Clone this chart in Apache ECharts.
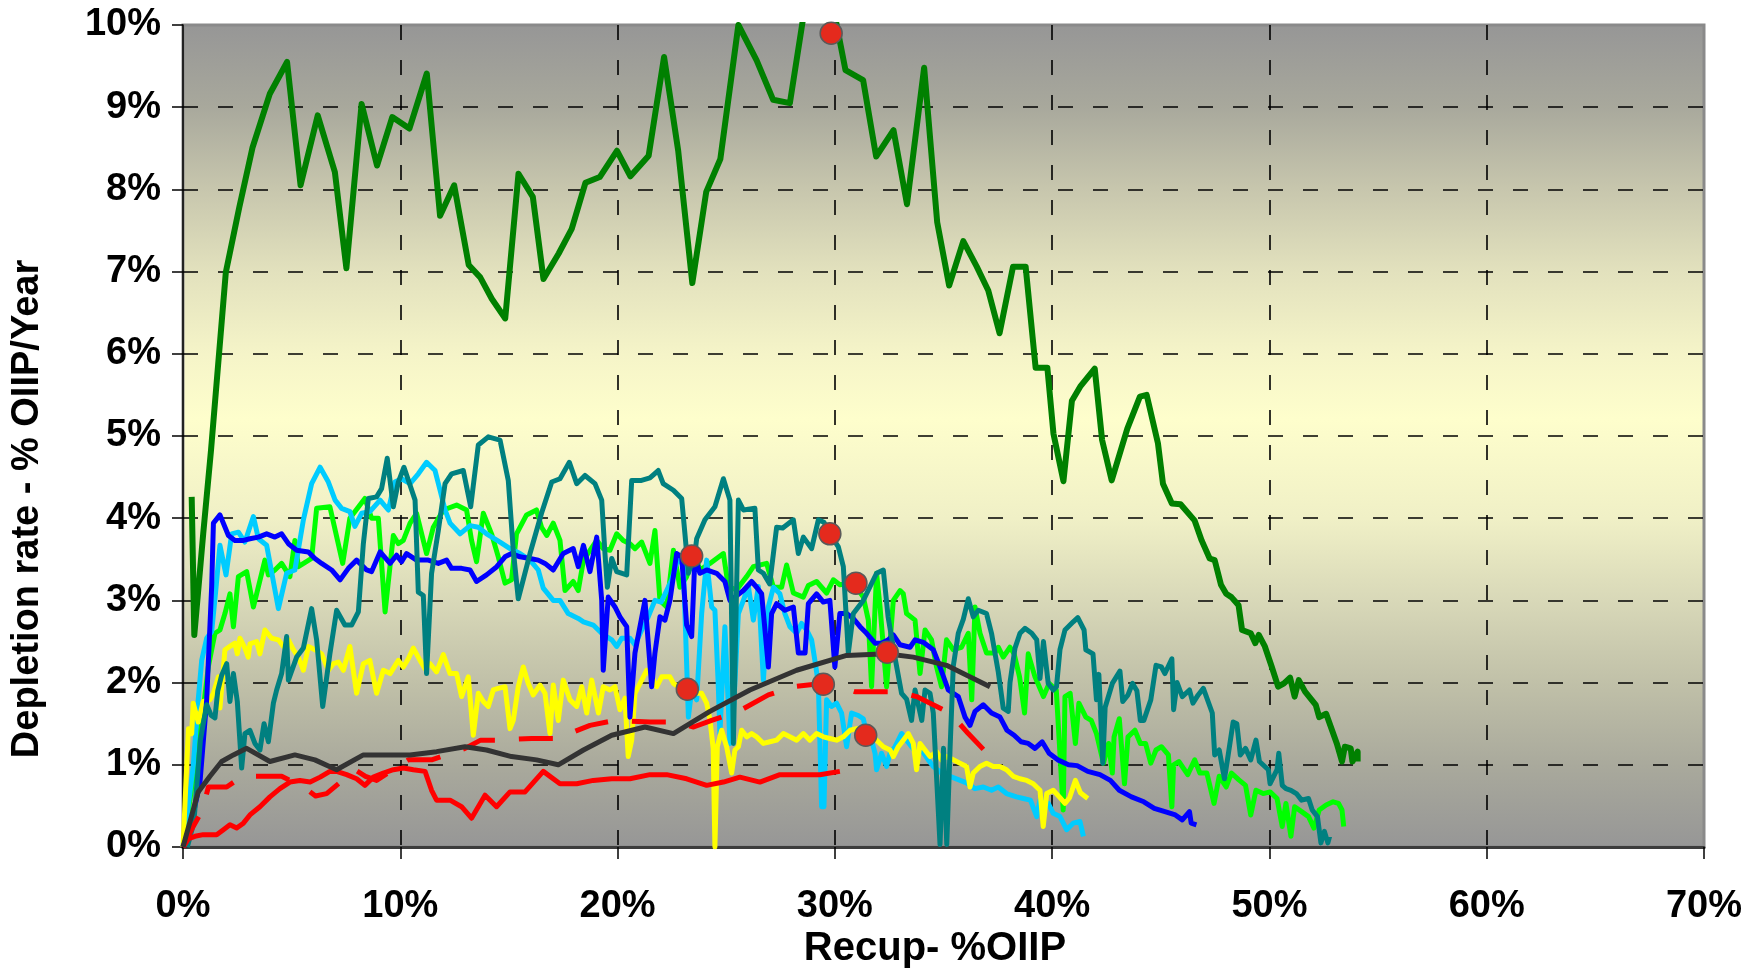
<!DOCTYPE html>
<html>
<head>
<meta charset="utf-8">
<script src="https://cdn.jsdelivr.net/npm/echarts/dist/echarts.min.js"></script>
<style>
  html, body { margin: 0; padding: 0; background: #ffffff; }
  #chart { width: 1762px; height: 971px; }
</style>
</head>
<body>
<div id="chart"></div>
<script>
// Axis ranges (percent units)
const xRange = { min: 0, max: 70, step: 10 };
const yRange = { min: 0, max: 10, step: 1 };
const xTitle = 'Recup- %OIIP';
const yTitle = 'Depletion rate - % OIIP/Year';

// Each curve: [recovery % OIIP, depletion rate % OIIP/year]
const fieldDarkGreen = [[0.40,4.26],[0.52,2.58],[0.93,3.81],[1.29,4.83],[1.97,6.99],[2.59,7.78],[3.20,8.51],[3.99,9.16],[4.79,9.55],[5.41,8.05],[6.20,8.90],[6.99,8.21],[7.52,7.04],[8.22,9.04],[8.93,8.29],[9.63,8.88],[10.42,8.74],[11.22,9.41],[11.83,7.68],[12.48,8.05],[13.15,7.08],[13.68,6.93],[14.21,6.67],[14.83,6.43],[15.44,8.19],[16.10,7.91],[16.59,6.91],[17.29,7.22],[17.89,7.52],[18.52,8.08],[19.18,8.15],[19.97,8.47],[20.59,8.16],[21.43,8.41],[22.14,9.61],[22.79,8.47],[23.44,6.86],[24.08,7.97],[24.73,8.37],[25.56,10.0],[26.40,9.57],[27.16,9.09],[27.93,9.05],[29.20,11.2],[30.49,9.45],[31.30,9.33],[31.90,8.40],[32.70,8.72],[33.32,7.82],[34.11,9.48],[34.71,7.60],[35.26,6.83],[35.91,7.37],[36.53,7.06],[37.06,6.77],[37.58,6.25],[38.20,7.06],[38.78,7.06],[39.24,5.83],[39.78,5.83],[40.06,5.03],[40.52,4.45],[40.91,5.43],[41.29,5.60],[41.96,5.82],[42.30,4.95],[42.74,4.46],[43.46,5.09],[44.04,5.48],[44.35,5.50],[44.87,4.91],[45.10,4.42],[45.51,4.18],[45.91,4.17],[46.56,3.97],[46.88,3.73],[47.25,3.51],[47.48,3.49],[47.77,3.19],[48.01,3.08],[48.25,3.04],[48.58,2.94],[48.74,2.64],[49.14,2.60],[49.35,2.48],[49.51,2.58],[49.79,2.44],[50.11,2.19],[50.40,1.95],[50.67,1.99],[50.95,2.06],[51.16,1.83],[51.35,2.03],[51.64,1.89],[52.13,1.73],[52.29,1.58],[52.61,1.62],[53.10,1.26],[53.34,1.04],[53.47,1.22],[53.74,1.20],[53.82,1.04],[54.06,1.16],[54.06,1.04]];

const fieldTeal = [[0.20,0.00],[0.50,0.30],[0.80,1.30],[1.09,1.73],[1.30,1.60],[1.47,1.57],[1.60,1.90],[1.78,2.09],[2.01,2.23],[2.16,1.77],[2.32,2.11],[2.50,1.77],[2.70,0.96],[2.85,1.38],[3.08,1.42],[3.31,1.26],[3.54,1.18],[3.73,1.50],[3.93,1.28],[4.16,1.75],[4.31,1.91],[4.54,2.11],[4.77,2.56],[4.85,2.03],[5.23,2.31],[5.54,2.42],[5.92,2.90],[6.15,2.52],[6.43,1.71],[6.76,2.35],[7.07,2.88],[7.45,2.70],[7.76,2.70],[8.07,2.86],[8.30,3.69],[8.53,4.24],[8.91,4.26],[9.14,4.36],[9.40,4.73],[9.68,4.14],[9.91,4.44],[10.17,4.62],[10.45,4.40],[10.68,4.22],[10.83,3.10],[11.06,3.06],[11.21,2.11],[11.44,3.33],[11.75,3.85],[12.06,4.42],[12.36,4.54],[12.90,4.58],[13.24,4.14],[13.59,4.89],[14.05,4.99],[14.59,4.95],[14.97,4.46],[15.20,3.61],[15.43,3.02],[15.97,3.57],[16.50,4.06],[16.97,4.44],[17.35,4.48],[17.78,4.68],[18.12,4.42],[18.50,4.52],[18.96,4.42],[19.27,4.22],[19.42,3.57],[19.53,3.16],[19.73,3.51],[19.96,3.35],[20.42,3.31],[20.65,4.46],[21.10,4.46],[21.49,4.49],[21.87,4.58],[22.10,4.42],[22.57,4.34],[22.95,4.24],[23.10,3.81],[23.26,3.33],[23.56,3.57],[23.64,3.75],[24.02,3.98],[24.48,4.14],[24.87,4.48],[25.17,4.22],[25.33,1.26],[25.56,4.22],[25.79,4.10],[26.32,4.12],[26.48,3.37],[26.71,3.33],[27.00,3.20],[27.32,3.89],[27.60,3.88],[28.09,3.98],[28.32,3.57],[28.55,3.77],[28.93,3.63],[29.24,3.98],[29.50,3.95],[29.77,3.81],[30.16,3.65],[30.39,3.41],[30.62,2.36],[30.85,2.84],[31.31,3.00],[31.92,3.33],[32.23,3.37],[32.45,2.80],[32.77,2.30],[33.07,1.87],[33.30,1.80],[33.53,1.54],[33.69,1.91],[34.00,1.54],[34.15,1.91],[34.38,1.87],[34.53,1.63],[34.84,0.03],[35.00,1.20],[35.15,0.03],[35.30,1.18],[35.45,2.20],[35.68,2.60],[35.91,2.77],[36.14,3.02],[36.37,2.80],[36.60,2.88],[36.98,2.84],[37.21,2.60],[37.52,2.13],[37.75,1.69],[37.98,1.65],[38.06,2.00],[38.29,2.42],[38.52,2.60],[38.75,2.66],[39.06,2.60],[39.29,2.52],[39.44,2.05],[39.60,2.50],[39.82,1.99],[40.05,1.91],[40.20,1.95],[40.36,2.40],[40.59,2.64],[40.97,2.74],[41.18,2.79],[41.47,2.64],[41.55,2.40],[41.88,2.35],[42.04,1.79],[42.15,2.10],[42.33,1.02],[42.44,1.70],[42.77,1.99],[43.12,2.14],[43.25,1.77],[43.49,1.85],[43.70,1.99],[43.90,1.90],[44.06,1.54],[44.22,1.54],[44.54,1.79],[44.78,2.21],[45.03,2.19],[45.19,2.11],[45.51,2.29],[45.59,1.67],[45.75,2.00],[45.99,1.83],[46.32,1.91],[46.48,1.75],[46.72,1.85],[46.96,1.93],[47.37,1.63],[47.48,1.12],[47.69,1.18],[47.93,0.83],[48.09,1.10],[48.33,1.52],[48.50,1.50],[48.66,1.12],[48.90,1.20],[49.14,1.06],[49.38,1.30],[49.54,1.04],[49.95,0.94],[50.03,0.77],[50.35,0.94],[50.43,1.14],[50.59,0.75],[50.76,0.71],[50.99,0.69],[51.24,0.65],[51.48,0.57],[51.80,0.59],[51.97,0.45],[52.21,0.37],[52.37,0.05],[52.53,0.19],[52.69,0.05],[52.77,0.13]];

const fieldLime = [[0.10,0.20],[0.50,0.90],[0.90,1.60],[1.17,2.20],[1.47,2.60],[1.70,2.64],[1.93,2.84],[2.16,3.08],[2.32,2.68],[2.55,3.29],[2.93,3.35],[3.24,2.92],[3.77,3.49],[3.93,3.31],[4.23,3.37],[4.54,3.45],[4.92,3.29],[5.15,3.73],[5.31,3.41],[5.92,3.51],[6.15,4.12],[6.76,4.14],[7.35,3.45],[7.68,4.00],[8.37,4.24],[8.68,4.00],[8.99,4.00],[9.30,2.86],[9.68,3.79],[9.91,3.69],[10.14,3.73],[10.45,3.94],[10.75,4.06],[11.21,3.57],[11.52,3.89],[11.98,4.10],[12.59,4.16],[13.05,4.10],[13.28,3.73],[13.51,3.47],[13.82,4.06],[14.20,3.81],[14.51,3.53],[14.82,3.21],[15.12,3.25],[15.35,3.81],[15.81,4.04],[16.27,4.10],[16.50,3.89],[16.74,3.79],[17.04,3.94],[17.35,3.73],[17.58,3.12],[17.96,3.23],[18.19,3.12],[18.43,3.49],[18.73,3.61],[19.04,3.73],[19.34,3.63],[19.65,3.61],[19.96,3.81],[20.26,3.73],[20.57,3.69],[20.80,3.63],[21.11,3.71],[21.49,3.45],[21.72,3.85],[21.95,3.00],[22.26,2.92],[22.57,3.61],[22.87,3.16],[23.18,3.29],[23.49,3.61],[23.79,3.37],[24.25,3.45],[24.87,3.57],[25.10,3.16],[25.48,3.13],[25.94,3.29],[26.25,3.41],[26.86,3.45],[27.17,3.16],[27.55,3.16],[27.78,3.43],[28.09,3.09],[28.55,3.04],[28.78,3.18],[29.16,3.23],[29.62,3.09],[29.93,3.25],[30.23,3.19],[30.85,3.21],[31.31,3.04],[31.54,2.76],[31.69,1.95],[31.92,3.33],[32.08,2.92],[32.38,1.95],[32.69,3.00],[33.00,3.12],[33.15,3.08],[33.30,2.84],[33.69,2.76],[33.92,2.11],[34.15,2.64],[34.45,2.52],[34.68,2.19],[34.91,1.95],[35.14,2.52],[35.45,2.40],[35.83,2.43],[36.14,2.60],[36.30,1.79],[36.45,2.92],[36.68,2.60],[36.98,2.36],[37.36,2.36],[37.52,2.43],[37.75,2.31],[38.06,2.43],[38.25,2.35],[38.50,2.07],[38.73,1.63],[38.90,2.35],[39.21,2.07],[39.60,1.83],[39.86,1.99],[40.19,1.91],[40.51,0.45],[40.59,1.83],[40.83,1.87],[41.07,1.26],[41.23,1.75],[41.55,1.58],[41.80,1.54],[42.04,1.38],[42.36,1.02],[42.60,1.26],[42.77,0.90],[42.85,1.34],[43.09,1.56],[43.33,0.77],[43.49,1.34],[43.81,1.42],[44.06,1.26],[44.30,1.26],[44.54,1.02],[44.78,1.18],[45.03,1.22],[45.35,1.12],[45.51,0.49],[45.59,1.00],[45.83,1.04],[46.24,0.88],[46.56,1.06],[46.80,0.90],[47.12,0.90],[47.45,0.53],[47.69,0.86],[48.01,0.73],[48.25,0.90],[48.58,0.82],[48.90,0.75],[49.14,0.39],[49.38,0.69],[49.71,0.65],[50.03,0.67],[50.35,0.59],[50.59,0.25],[50.76,0.53],[50.99,0.13],[51.16,0.49],[51.48,0.43],[51.80,0.37],[52.05,0.23],[52.29,0.45],[52.61,0.51],[52.93,0.55],[53.18,0.53],[53.34,0.45],[53.42,0.25]];

const fieldBlue = [[0.00,0.00],[0.32,0.21],[0.55,0.50],[0.78,0.78],[1.09,1.79],[1.32,3.17],[1.40,3.94],[1.70,4.04],[2.09,3.79],[2.39,3.73],[2.78,3.73],[3.08,3.75],[3.47,3.77],[3.85,3.81],[4.23,3.77],[4.54,3.81],[4.85,3.69],[5.23,3.61],[5.77,3.59],[6.07,3.51],[6.38,3.45],[6.84,3.37],[7.23,3.25],[7.61,3.39],[7.99,3.49],[8.45,3.37],[8.68,3.35],[9.07,3.59],[9.53,3.45],[9.83,3.55],[10.06,3.47],[10.29,3.57],[10.75,3.49],[11.29,3.49],[11.75,3.45],[12.13,3.49],[12.36,3.39],[12.82,3.39],[13.21,3.37],[13.51,3.23],[13.97,3.31],[14.44,3.41],[14.82,3.53],[15.12,3.57],[15.51,3.53],[15.97,3.51],[16.35,3.49],[16.66,3.45],[17.04,3.37],[17.50,3.57],[17.96,3.63],[18.19,3.41],[18.43,3.67],[18.73,3.35],[19.04,3.77],[19.27,3.00],[19.34,2.15],[19.57,3.04],[19.88,2.92],[20.11,2.80],[20.42,2.68],[20.57,1.58],[20.80,2.36],[21.26,3.00],[21.57,1.95],[21.72,2.36],[21.95,2.80],[22.18,2.76],[22.41,3.00],[22.72,3.57],[22.95,3.53],[23.18,2.70],[23.41,2.56],[23.56,3.53],[23.79,3.33],[24.10,3.37],[24.56,3.33],[24.94,3.23],[25.17,3.00],[25.40,3.04],[25.79,3.12],[26.17,3.23],[26.40,3.16],[26.63,3.08],[26.94,2.19],[27.09,2.84],[27.32,2.96],[27.70,2.88],[28.09,2.92],[28.32,2.36],[28.63,2.36],[28.78,2.96],[29.16,3.08],[29.47,2.98],[29.77,3.00],[30.00,2.19],[30.23,2.84],[30.54,2.84],[30.85,2.78],[31.16,2.68],[31.46,2.60],[31.85,2.48],[32.15,2.48],[32.46,2.52],[32.69,2.58],[33.00,2.46],[33.46,2.43],[33.69,2.52],[34.07,2.49],[34.53,2.40],[34.84,2.19],[35.22,1.91],[35.68,1.83],[35.99,1.58],[36.22,1.48],[36.45,1.65],[36.83,1.73],[37.21,1.63],[37.60,1.58],[37.92,1.42],[38.25,1.36],[38.57,1.28],[38.90,1.26],[39.21,1.20],[39.54,1.28],[39.86,1.14],[40.26,1.06],[40.75,1.00],[41.15,0.99],[41.64,0.92],[42.20,0.88],[42.68,0.81],[43.09,0.69],[43.65,0.61],[44.22,0.55],[44.70,0.47],[45.19,0.43],[45.67,0.39],[45.99,0.33],[46.32,0.43],[46.40,0.29],[46.64,0.27]];

const fieldCyan = [[0.00,0.00],[0.47,0.98],[0.70,1.79],[0.86,2.27],[1.09,2.54],[1.32,2.62],[1.50,3.10],[1.70,3.67],[1.98,3.31],[2.24,3.81],[2.55,3.83],[2.85,3.71],[3.24,4.02],[3.47,3.75],[3.85,3.67],[4.39,2.90],[4.77,3.33],[5.15,3.37],[5.54,3.98],[5.92,4.42],[6.31,4.62],[6.69,4.44],[7.00,4.22],[7.30,4.12],[7.68,4.08],[7.91,3.90],[8.22,4.06],[8.60,4.08],[9.07,4.22],[9.45,4.10],[9.75,4.44],[10.06,4.48],[10.45,4.42],[10.83,4.54],[11.21,4.68],[11.60,4.58],[11.83,4.34],[12.06,4.10],[12.29,3.94],[12.75,3.81],[13.21,3.91],[13.59,3.89],[13.97,3.81],[14.59,3.71],[15.05,3.63],[15.51,3.57],[15.97,3.49],[16.35,3.37],[16.58,3.15],[17.04,3.00],[17.35,3.00],[17.73,2.84],[18.19,2.78],[18.43,2.74],[18.88,2.70],[19.27,2.60],[19.73,2.52],[19.96,2.44],[20.19,2.54],[20.57,2.54],[20.80,2.46],[21.11,2.64],[21.41,2.80],[21.72,3.00],[22.00,2.98],[22.26,3.12],[22.49,3.25],[22.80,3.53],[23.03,3.41],[23.26,1.58],[23.41,1.91],[23.64,1.79],[23.87,2.84],[24.10,3.49],[24.33,2.92],[24.48,2.88],[24.63,2.00],[24.71,1.38],[24.94,2.68],[25.17,1.26],[25.33,1.63],[25.56,2.84],[25.79,3.00],[26.02,3.17],[26.25,2.76],[26.48,3.17],[26.71,2.03],[26.94,2.92],[27.17,3.16],[27.47,3.08],[27.70,2.84],[27.93,2.68],[28.24,2.60],[28.47,2.72],[28.70,2.64],[28.93,2.52],[29.08,2.27],[29.24,1.99],[29.39,0.49],[29.50,0.49],[29.62,1.79],[29.85,1.71],[30.08,1.75],[30.31,1.63],[30.54,1.22],[30.77,1.63],[31.08,1.60],[31.31,1.56],[31.46,1.38],[31.69,1.30],[31.85,1.14],[31.92,0.94],[32.15,1.14],[32.38,0.98],[32.54,1.14],[32.77,1.22],[33.07,1.38],[33.30,1.30],[33.53,1.22],[33.76,1.14],[34.00,1.18],[34.30,1.06],[34.53,0.98],[34.91,0.90],[35.30,0.86],[35.68,0.82],[36.06,0.78],[36.45,0.71],[36.83,0.73],[37.21,0.69],[37.52,0.73],[37.90,0.65],[38.36,0.61],[38.67,0.59],[39.00,0.57],[39.29,0.37],[39.44,0.57],[39.82,0.53],[40.05,0.41],[40.36,0.37],[40.67,0.21],[40.97,0.29],[41.28,0.31],[41.44,0.13]];

const fieldYellow = [[0.00,0.00],[0.17,0.98],[0.25,1.44],[0.40,1.38],[0.47,1.75],[0.70,1.52],[0.93,1.77],[1.24,1.79],[1.40,1.87],[1.63,2.07],[1.70,1.69],[1.93,2.40],[2.16,2.44],[2.39,2.48],[2.50,2.35],[2.62,2.54],[2.85,2.42],[3.00,2.31],[3.08,2.47],[3.39,2.50],[3.54,2.35],[3.77,2.64],[4.08,2.54],[4.39,2.52],[4.62,2.44],[4.85,2.52],[5.08,2.40],[5.31,2.31],[5.54,2.15],[5.77,2.44],[6.07,2.40],[6.38,2.35],[6.69,2.15],[6.92,2.23],[7.15,2.25],[7.38,2.15],[7.68,2.44],[7.99,1.87],[8.30,2.23],[8.60,2.27],[8.91,1.87],[9.22,2.15],[9.53,2.11],[9.91,2.27],[10.14,2.19],[10.37,2.29],[10.60,2.42],[10.91,2.27],[11.14,2.17],[11.37,2.23],[11.67,2.13],[11.98,2.34],[12.29,2.11],[12.59,2.11],[12.82,1.83],[13.13,2.07],[13.36,1.36],[13.59,1.87],[13.82,1.77],[14.05,1.71],[14.28,1.91],[14.51,1.93],[14.82,1.95],[15.05,1.44],[15.20,1.54],[15.43,1.95],[15.66,2.19],[15.89,1.99],[16.12,1.85],[16.43,1.97],[16.66,1.87],[16.89,1.38],[17.04,1.97],[17.27,1.54],[17.50,2.03],[17.81,1.79],[18.12,1.71],[18.35,1.95],[18.58,1.63],[18.81,2.03],[19.12,1.63],[19.34,1.95],[19.65,1.91],[19.88,1.95],[20.11,1.67],[20.34,1.81],[20.49,1.10],[20.65,1.30],[20.80,1.87],[21.11,2.03],[21.34,2.15],[21.57,2.07],[21.80,1.95],[22.03,2.07],[22.18,2.07],[22.41,2.07],[22.57,1.99],[22.80,1.95],[23.03,1.93],[23.34,1.95],[23.64,1.87],[23.87,1.87],[24.10,1.75],[24.25,1.55],[24.40,1.20],[24.48,0.00],[24.59,1.22],[24.79,1.42],[25.02,1.22],[25.25,0.90],[25.40,1.18],[25.56,1.22],[25.71,1.42],[25.94,1.34],[26.17,1.38],[26.40,1.34],[26.71,1.26],[27.01,1.28],[27.32,1.30],[27.63,1.38],[27.93,1.34],[28.24,1.30],[28.55,1.38],[28.85,1.30],[29.16,1.38],[29.47,1.34],[29.77,1.32],[30.08,1.30],[30.39,1.34],[30.70,1.42],[31.00,1.44],[31.31,1.38],[31.62,1.38],[31.92,1.30],[32.23,1.22],[32.54,1.18],[32.69,1.10],[32.92,1.22],[33.15,1.30],[33.38,1.38],[33.61,1.26],[33.76,0.94],[33.92,1.26],[34.15,1.18],[34.38,1.10],[34.68,1.16],[34.91,1.06],[35.14,1.10],[35.45,1.06],[35.76,1.02],[36.06,0.98],[36.22,0.73],[36.37,0.90],[36.68,0.98],[36.98,1.02],[37.29,0.98],[37.60,0.98],[37.90,0.94],[38.21,0.86],[38.52,0.83],[38.83,0.81],[39.13,0.77],[39.44,0.69],[39.59,0.25],[39.75,0.65],[40.05,0.69],[40.36,0.60],[40.59,0.53],[40.80,0.60],[41.07,0.81],[41.30,0.66],[41.64,0.59]];

const fieldRed = [[0.00,0.00],[0.25,0.10],[0.55,0.13],[0.93,0.15],[1.55,0.15],[1.86,0.21],[2.16,0.27],[2.47,0.23],[2.78,0.29],[3.08,0.39],[3.54,0.49],[4.00,0.61],[4.46,0.71],[4.92,0.79],[5.38,0.81],[5.85,0.79],[6.31,0.85],[6.76,0.92],[7.07,0.92],[7.53,0.88],[7.99,0.83],[8.37,0.75],[8.76,0.85],[9.22,0.90],[9.68,0.94],[10.14,0.96],[10.60,0.94],[11.14,0.92],[11.44,0.69],[11.67,0.57],[12.29,0.57],[12.82,0.49],[13.28,0.35],[13.90,0.63],[14.43,0.49],[15.05,0.67],[15.74,0.67],[16.58,0.92],[17.35,0.77],[18.12,0.77],[18.88,0.81],[19.73,0.83],[20.57,0.83],[21.49,0.88],[22.26,0.88],[23.18,0.83],[24.10,0.75],[24.87,0.79],[25.63,0.85],[26.55,0.79],[27.47,0.88],[28.39,0.88],[29.31,0.88],[30.23,0.92]];

const fieldRedDashed = [[0.00,0.00],[0.47,0.25],[0.86,0.43],[1.17,0.73],[2.01,0.73],[2.62,0.84],[3.30,0.86],[4.54,0.86],[4.92,0.81],[5.54,0.73],[6.10,0.62],[6.61,0.65],[7.92,0.94],[8.40,0.86],[8.91,0.81],[10.37,1.06],[11.44,1.06],[12.98,1.20],[13.70,1.30],[14.36,1.30],[16.04,1.32],[17.20,1.32],[18.73,1.48],[19.88,1.54],[21.49,1.52],[22.72,1.52],[23.50,1.46],[24.33,1.54],[25.56,1.65],[26.94,1.85],[28.09,1.95],[29.39,1.99],[30.20,1.95],[30.92,1.89],[32.61,1.89],[33.30,1.86],[33.76,1.83],[35.30,1.63],[36.14,1.38],[37.37,1.04]];

const fieldGray = [[0.00,0.00],[0.70,0.67],[1.24,0.86],[1.78,1.04],[2.32,1.12],[2.93,1.20],[4.00,1.04],[5.15,1.12],[6.07,1.06],[7.07,0.94],[8.30,1.12],[10.45,1.12],[11.67,1.16],[12.98,1.22],[13.97,1.18],[15.12,1.10],[16.27,1.06],[17.27,1.00],[18.43,1.18],[19.73,1.36],[21.26,1.46],[22.57,1.38],[24.25,1.65],[26.09,1.91],[28.24,2.15],[30.54,2.33],[32.38,2.35],[33.61,2.31],[35.14,2.21],[37.14,1.95]];

// Highlighted points on the curves
const markedPoints = [[29.83,9.90],[23.41,3.54],[29.77,3.81],[30.97,3.21],[32.41,2.37],[23.21,1.92],[29.47,1.98],[31.42,1.36]];

const FONT = 'Liberation Sans, Arial, sans-serif';

function curve(name, data, color, width, dash) {
  return {
    name: name,
    type: 'line',
    data: data,
    symbol: 'none',
    showSymbol: false,
    clip: true,
    silent: true,
    lineStyle: {
      color: color,
      width: width,
      type: dash || 'solid',
      cap: 'butt',
      join: 'round'
    }
  };
}

const chart = echarts.init(document.getElementById('chart'), null, { renderer: 'canvas' });

const plotFill = new echarts.graphic.LinearGradient(0, 0, 0, 1, [
  { offset: 0.00, color: '#969696' },
  { offset: 0.10, color: '#a8a89c' },
  { offset: 0.20, color: '#c7c6ad' },
  { offset: 0.30, color: '#e2e1bd' },
  { offset: 0.40, color: '#f5f4c8' },
  { offset: 0.48, color: '#fefecc' },
  { offset: 0.60, color: '#f0f0c6' },
  { offset: 0.70, color: '#d8d8b8' },
  { offset: 0.80, color: '#c0c0a8' },
  { offset: 0.90, color: '#a9a99c' },
  { offset: 1.00, color: '#969696' }
]);

const gridDash = { color: '#000000', width: 1.6, type: [15, 20] };
const labelStyle = { color: '#000000', fontFamily: FONT, fontWeight: 'bold', fontSize: 38 };

chart.setOption({
  animation: false,
  backgroundColor: '#ffffff',
  grid: {
    left: 183, right: 58, top: 25, bottom: 124,
    show: true,
    backgroundColor: plotFill,
    borderColor: '#8a8a8a',
    borderWidth: 3
  },
  xAxis: {
    type: 'value',
    min: xRange.min, max: xRange.max, interval: xRange.step,
    axisLine: { show: true, onZero: false, lineStyle: { color: '#3c3c3c', width: 3 } },
    axisTick: { show: true, inside: false, length: 12, lineStyle: { color: '#000000', width: 1.5 } },
    axisLabel: Object.assign({ margin: 41, formatter: '{value}%' }, labelStyle),
    splitLine: { show: true, showMinLine: false, showMaxLine: false, lineStyle: gridDash }
  },
  yAxis: {
    type: 'value',
    min: yRange.min, max: yRange.max, interval: yRange.step,
    axisLine: { show: true, onZero: false, lineStyle: { color: '#000000', width: 1.5 } },
    axisTick: { show: true, inside: false, length: 11, lineStyle: { color: '#000000', width: 1.5 } },
    axisLabel: Object.assign({ margin: 22, formatter: '{value}%' }, labelStyle),
    splitLine: { show: true, showMinLine: false, showMaxLine: false, lineStyle: gridDash }
  },
  graphic: [
    {
      type: 'text',
      x: 28, y: 509,
      rotation: Math.PI / 2,
      style: {
        text: yTitle,
        fill: '#000000',
        font: 'bold 38px ' + FONT,
        align: 'center',
        verticalAlign: 'middle'
      }
    },
    {
      type: 'text',
      x: 935, y: 949,
      style: {
        text: xTitle,
        fill: '#000000',
        font: 'bold 40px ' + FONT,
        align: 'center',
        verticalAlign: 'middle'
      }
    }
  ],
  series: [
    curve('Lime', fieldLime, '#00FF00', 5),
    curve('Cyan', fieldCyan, '#00CCFF', 5),
    curve('Yellow', fieldYellow, '#FFFF00', 5),
    curve('Blue', fieldBlue, '#0000FF', 5),
    curve('Teal', fieldTeal, '#008080', 5),
    curve('Dark green', fieldDarkGreen, '#008000', 6),
    curve('Red', fieldRed, '#FF0000', 5),
    curve('Red dashed', fieldRedDashed, '#FF0000', 5, [34, 24]),
    curve('Gray', fieldGray, '#333333', 5),
    {
      name: 'Marked',
      type: 'scatter',
      data: markedPoints,
      symbol: 'circle',
      symbolSize: 22,
      clip: false,
      silent: true,
      z: 5,
      itemStyle: { color: '#E42A1D', borderColor: '#5a5a5a', borderWidth: 1.5, opacity: 1 }
    }
  ]
});
</script>
</body>
</html>
